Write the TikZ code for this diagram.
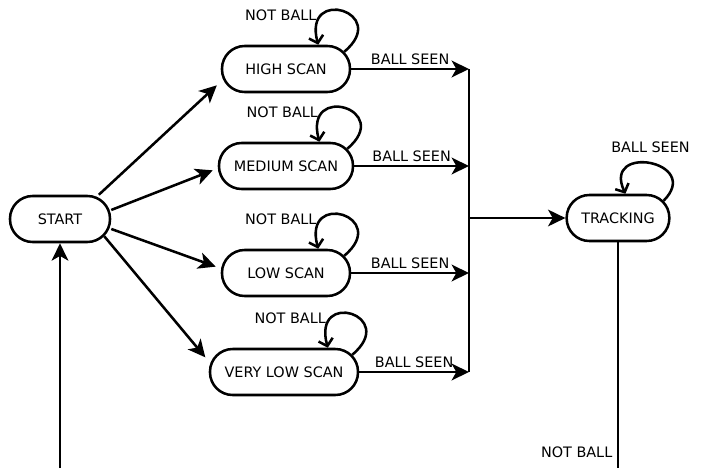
\documentclass[tikz,border=0pt]{standalone}
\usepackage{fontspec}
\setmainfont{DejaVu Sans}
\usetikzlibrary{arrows.meta}

\begin{document}
\begin{tikzpicture}[x=0.75pt, y=0.75pt, line width=1.9pt,
    font=\fontsize{10.8}{13}\selectfont,
    >={Stealth[length=13pt,width=12.5pt,inset=3.5pt]},
    selfloop/.style={-{Straight Barb[length=5pt,width=11pt]}, out=40, in=105, distance=46pt},
    trackloop/.style={-{Straight Barb[length=5pt,width=11pt]}, out=45, in=115, distance=42pt}]
   \useasboundingbox (0,0) rectangle (713,-468);
   \begin{scope}[every node/.style={draw, rounded corners=17pt, minimum height=34.5pt, inner xsep=4pt}]
    \node (start) [minimum width=75pt] at (60,-219) {START};
    \node (high) [minimum width=96pt] at (286,-69) {HIGH SCAN};
    \node (medium) [minimum width=100.5pt] at (286,-166) {MEDIUM SCAN};
    \node (low) [minimum width=96pt] at (286,-273) {LOW SCAN};
    \node (vlow) [minimum width=111pt] at (284,-372) {VERY LOW SCAN};
    \node (track) [minimum width=77pt] at (618,-218) {TRACKING};
   \end{scope}
   % collecting line and the two open ends
   \coordinate (b1) at (469,-69);
   \coordinate (b2) at (469,-166);
   \coordinate (b3) at (469,-273);
   \coordinate (b4) at (469,-372);
   \coordinate (bmid) at (469,-218);
   \coordinate (startfoot) at (60,-468);
   \coordinate (trackfoot) at (618,-468);
   \begin{scope}[every edge/.style={draw, line width=1.9pt}]
    \draw (start.32) edge [->, shorten >=4pt] (high.191);
    \draw (start.10) edge [->, shorten >=4pt] (medium.182);
    \draw (start.-11) edge [->, shorten >=4pt] (low.176);
    \draw ([shift={(-7,7)}]start.south east) edge [->, shorten >=4pt] (vlow.172);

    \draw ([shift={(-7,-7)}]high.north east) edge [selfloop] node[left, pos=0.75]{NOT BALL} (high.37);
    \draw ([shift={(-7,-7)}]medium.north east) edge [selfloop] node[left, pos=0.75]{NOT BALL} (medium.36);
    \draw ([shift={(-7,-7)}]low.north east) edge [selfloop] node[left, pos=0.75]{NOT BALL} (low.37);
    \draw ([shift={(-7,-7)}]vlow.north east) edge [selfloop] node[left, pos=0.75]{NOT BALL} (vlow.29);

    \draw (high) edge [->] node[above, inner sep=2pt]{BALL SEEN} (b1);
    \draw (medium) edge [->] node[above, inner sep=2pt]{BALL SEEN} (b2);
    \draw (low) edge [->] node[above, inner sep=2pt]{BALL SEEN} (b3);
    \draw (vlow) edge [->] node[above, inner sep=2pt]{BALL SEEN} (b4);
    \draw (b1) -- (b4);
    \draw (bmid) edge [->] (track);

    \draw ([shift={(-7,-7)}]track.north east) edge [trackloop] node[above, yshift=4pt]{BALL SEEN} (track.73);
    \draw (track) edge node[left, pos=0.93]{NOT BALL} (trackfoot);
    \draw (startfoot) edge [->] (start);
   \end{scope}
\end{tikzpicture}
\end{document}
